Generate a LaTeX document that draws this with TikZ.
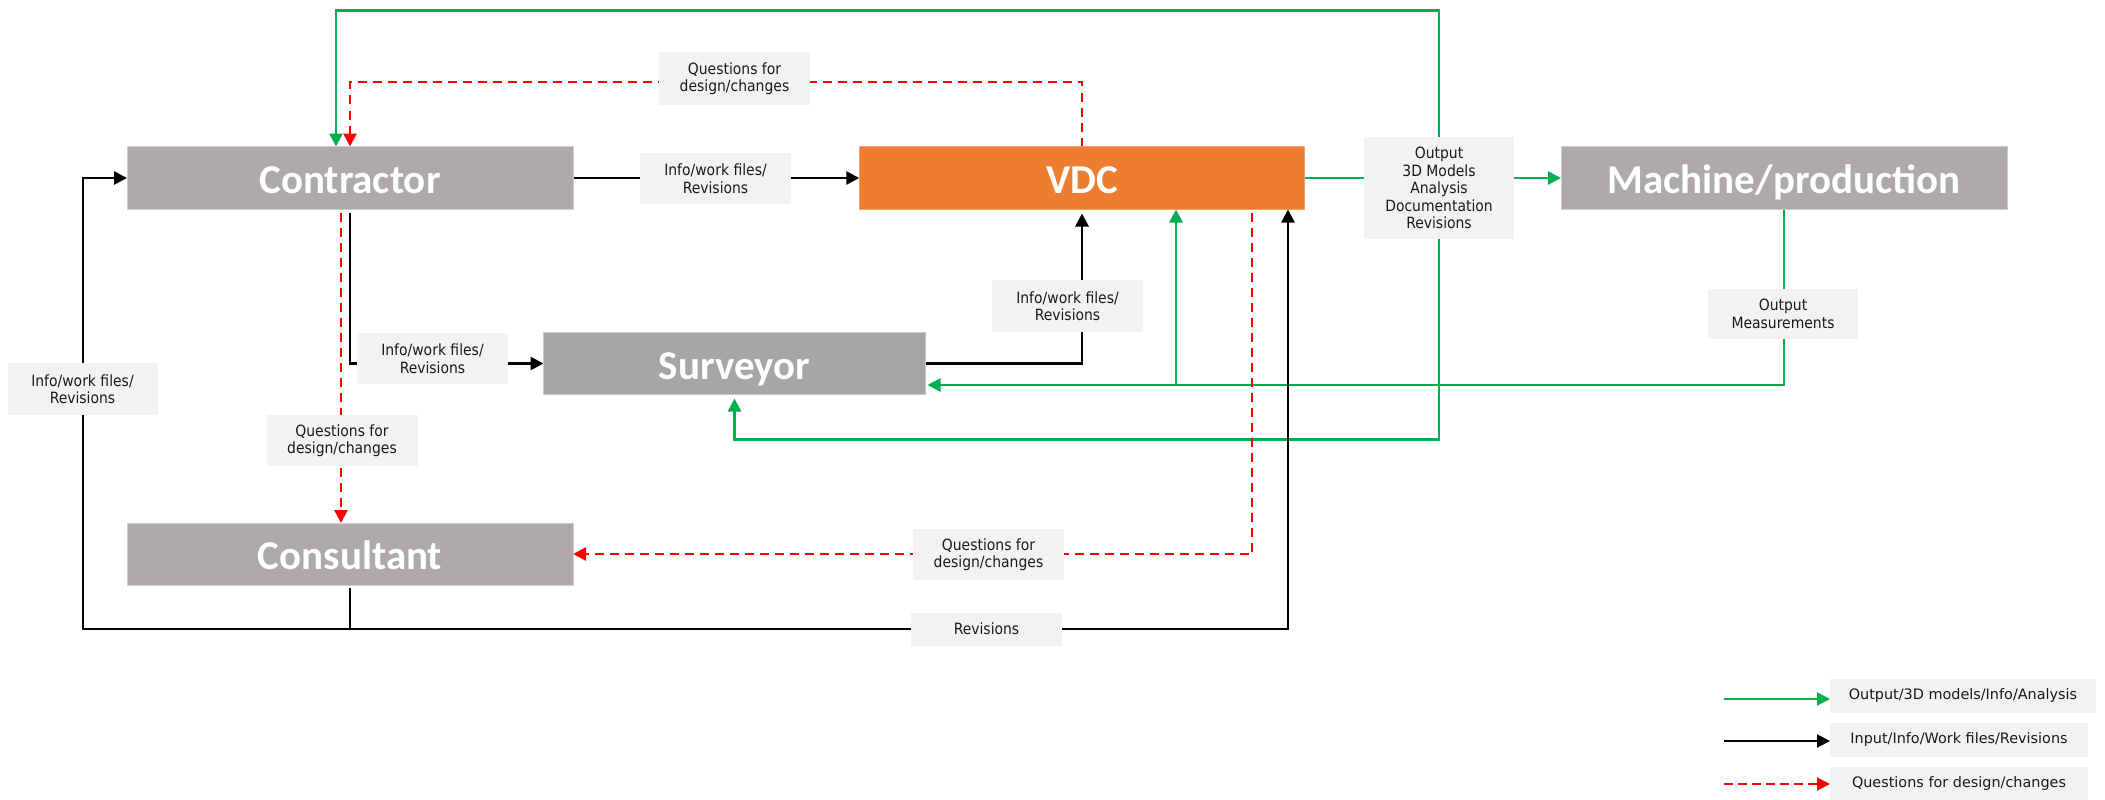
\documentclass[tikz,border=0pt]{standalone}
\usepackage{fontspec}
\usetikzlibrary{arrows.meta}
\newfontfamily\boxfont{Carlito}
\newfontfamily\lblfont{DejaVu Sans Condensed}
\newfontfamily\legfont{DejaVu Sans}
\definecolor{boxgray}{HTML}{AEAAAA}
\definecolor{survgray}{HTML}{A6A6A6}
\definecolor{vdcorange}{HTML}{ED7D31}
\definecolor{lblfill}{HTML}{F2F2F2}
\definecolor{gr}{HTML}{00B050}
\definecolor{rd}{HTML}{FF0000}
\pgfdeclarelayer{bg}
\pgfsetlayers{bg,main}
\begin{document}
\begin{tikzpicture}[x=1pt,y=-1pt,
  mainbox/.style={rectangle, inner sep=0pt, outer sep=0pt, text=white,
    font=\boxfont\bfseries\fontsize{41}{49}\selectfont,
    text height=31pt, text depth=0pt, line width=1pt},
  lbl/.style={rectangle, fill=lblfill, inner sep=0pt, outer sep=0pt, align=center,
    font=\lblfont\fontsize{15.5}{17.5}\selectfont, text=black!90},
  leg/.style={lbl, font=\legfont\fontsize{14.4}{17}\selectfont},
  tip/.style={-{Triangle[length=13pt,width=13pt]}},
  gln/.style={draw=gr, line width=2.7pt},
  bln/.style={draw=black, line width=2.7pt},
  rln/.style={draw=rd, line width=2.7pt, dash pattern=on 9pt off 6pt}]
\useasboundingbox (0,0) rectangle (2105,800);

% main boxes
\node[mainbox, fill=boxgray, draw=boxgray!60!white, minimum width=446pt, minimum height=63pt] (contractor) at (350,178) {Contractor};
\node[mainbox, fill=vdcorange, draw=vdcorange!70!white, minimum width=445.5pt, minimum height=63pt] (vdc) at (1082,178) {VDC};
\node[mainbox, fill=boxgray, draw=boxgray!60!white, minimum width=446pt, minimum height=63pt] (machine) at (1784,178) {Machine/production};
\node[mainbox, fill=survgray, draw=survgray!60!white, minimum width=382pt, minimum height=62pt] (surveyor) at (734.5,363.5) {Surveyor};
\node[mainbox, fill=boxgray, draw=boxgray!60!white, minimum width=446pt, minimum height=62pt] (consultant) at (350,554) {Consultant};

% labels
\node[lbl, minimum width=151pt, minimum height=52pt] (q1) at (734.5,78.5) {Questions for\\design/changes};
\node[lbl, minimum width=151pt, minimum height=51pt] (i1) at (715.5,178.5) {Info/work files/\\Revisions};
\node[lbl, minimum width=150pt, minimum height=102pt] (out) at (1439,188) {Output\\3D Models\\Analysis\\Documentation\\Revisions};
\node[lbl, minimum width=150pt, minimum height=50pt] (meas) at (1783,314) {Output\\Measurements};
\node[lbl, minimum width=151pt, minimum height=52pt] (i2) at (1067.5,306) {Info/work files/\\Revisions};
\node[lbl, minimum width=151pt, minimum height=51pt] (i3) at (432.5,358.5) {Info/work files/\\Revisions};
\node[lbl, minimum width=150pt, minimum height=52pt] (i4) at (82.5,389) {Info/work files/\\Revisions};
\node[lbl, minimum width=151pt, minimum height=51pt] (q2) at (342,440.5) {Questions for\\design/changes};
\node[lbl, minimum width=151pt, minimum height=51pt] (q3) at (988.5,554.5) {Questions for\\design/changes};
\node[lbl, minimum width=151pt, minimum height=33pt] (rev) at (986.5,629) {Revisions};

% legend
\node[leg, minimum width=266pt, minimum height=34pt] (leg1) at (1963,696) {Output/3D models/Info/Analysis};
\node[leg, minimum width=258pt, minimum height=34pt] (leg2) at (1959,740) {Input/Info/Work files/Revisions};
\node[leg, minimum width=258pt, minimum height=33pt] (leg3) at (1959,783.5) {Questions for design/changes};

\begin{pgfonlayer}{bg}
\coordinate (ytop) at (0,10.5);
\coordinate (yred) at (0,82);
\coordinate (ygm) at (0,385);
\coordinate (ygl) at (0,439.5);
\coordinate (yblk) at (0,629);
\coordinate (xleft) at (83,0);
\coordinate (xgv) at (1176,0);
\coordinate (cgin) at ([xshift=-14pt]contractor.north);

% green
\draw[gln,tip] (vdc.east) -- (machine.west);
\draw[gln,tip] (out.north) |- (cgin |- ytop) -- (cgin);
\draw[gln,tip,shorten >=4pt] (out.south) |- (surveyor.south |- ygl) -- (surveyor.south);
\draw[gln,tip,shorten >=2pt] (machine.south) |- (surveyor.east |- ygm);
\coordinate (gb) at (xgv |- ygm);
\draw[gln,tip] (gb) -- (gb |- vdc.south);

% black
\draw[bln,tip] (contractor.east) -- (vdc.west);
\draw[bln,tip,shorten <=3pt] (contractor.south) |- (surveyor.west);
\draw[bln,tip,shorten >=4pt] (surveyor.east) -| (vdc.south);
\coordinate (bj) at (consultant.south |- yblk);
\draw[bln,shorten <=3pt] (consultant.south) -- (bj);
\draw[bln,tip] (bj) -| (xleft |- contractor.west) -- (contractor.west);
\coordinate (bv) at ([xshift=206pt]vdc.south);
\draw[bln,tip] (bj) -| (bv);

% red
\draw[rln,tip] (vdc.north) |- (contractor.north |- yred) -- (contractor.north);
\coordinate (rc1) at ([xshift=-9pt]contractor.south);
\coordinate (rc2) at (rc1 |- consultant.north);
\draw[rln,tip,shorten <=3pt] (rc1) -- (rc2);
\coordinate (rv) at ([xshift=170pt]vdc.south);
\draw[rln,tip,shorten <=3pt] (rv) |- (consultant.east);

% legend arrows
\coordinate (l1) at (1724,699);
\coordinate (l2) at (1724,741);
\coordinate (l3) at (1724,784);
\draw[draw=gr, line width=2pt, tip] (l1) -- (l1 -| leg1.west);
\draw[draw=black, line width=2pt, tip] (l2) -- (l2 -| leg2.west);
\draw[draw=rd, line width=2pt, dash pattern=on 9pt off 5pt, tip] (l3) -- (l3 -| leg3.west);
\end{pgfonlayer}
\end{tikzpicture}
\end{document}
